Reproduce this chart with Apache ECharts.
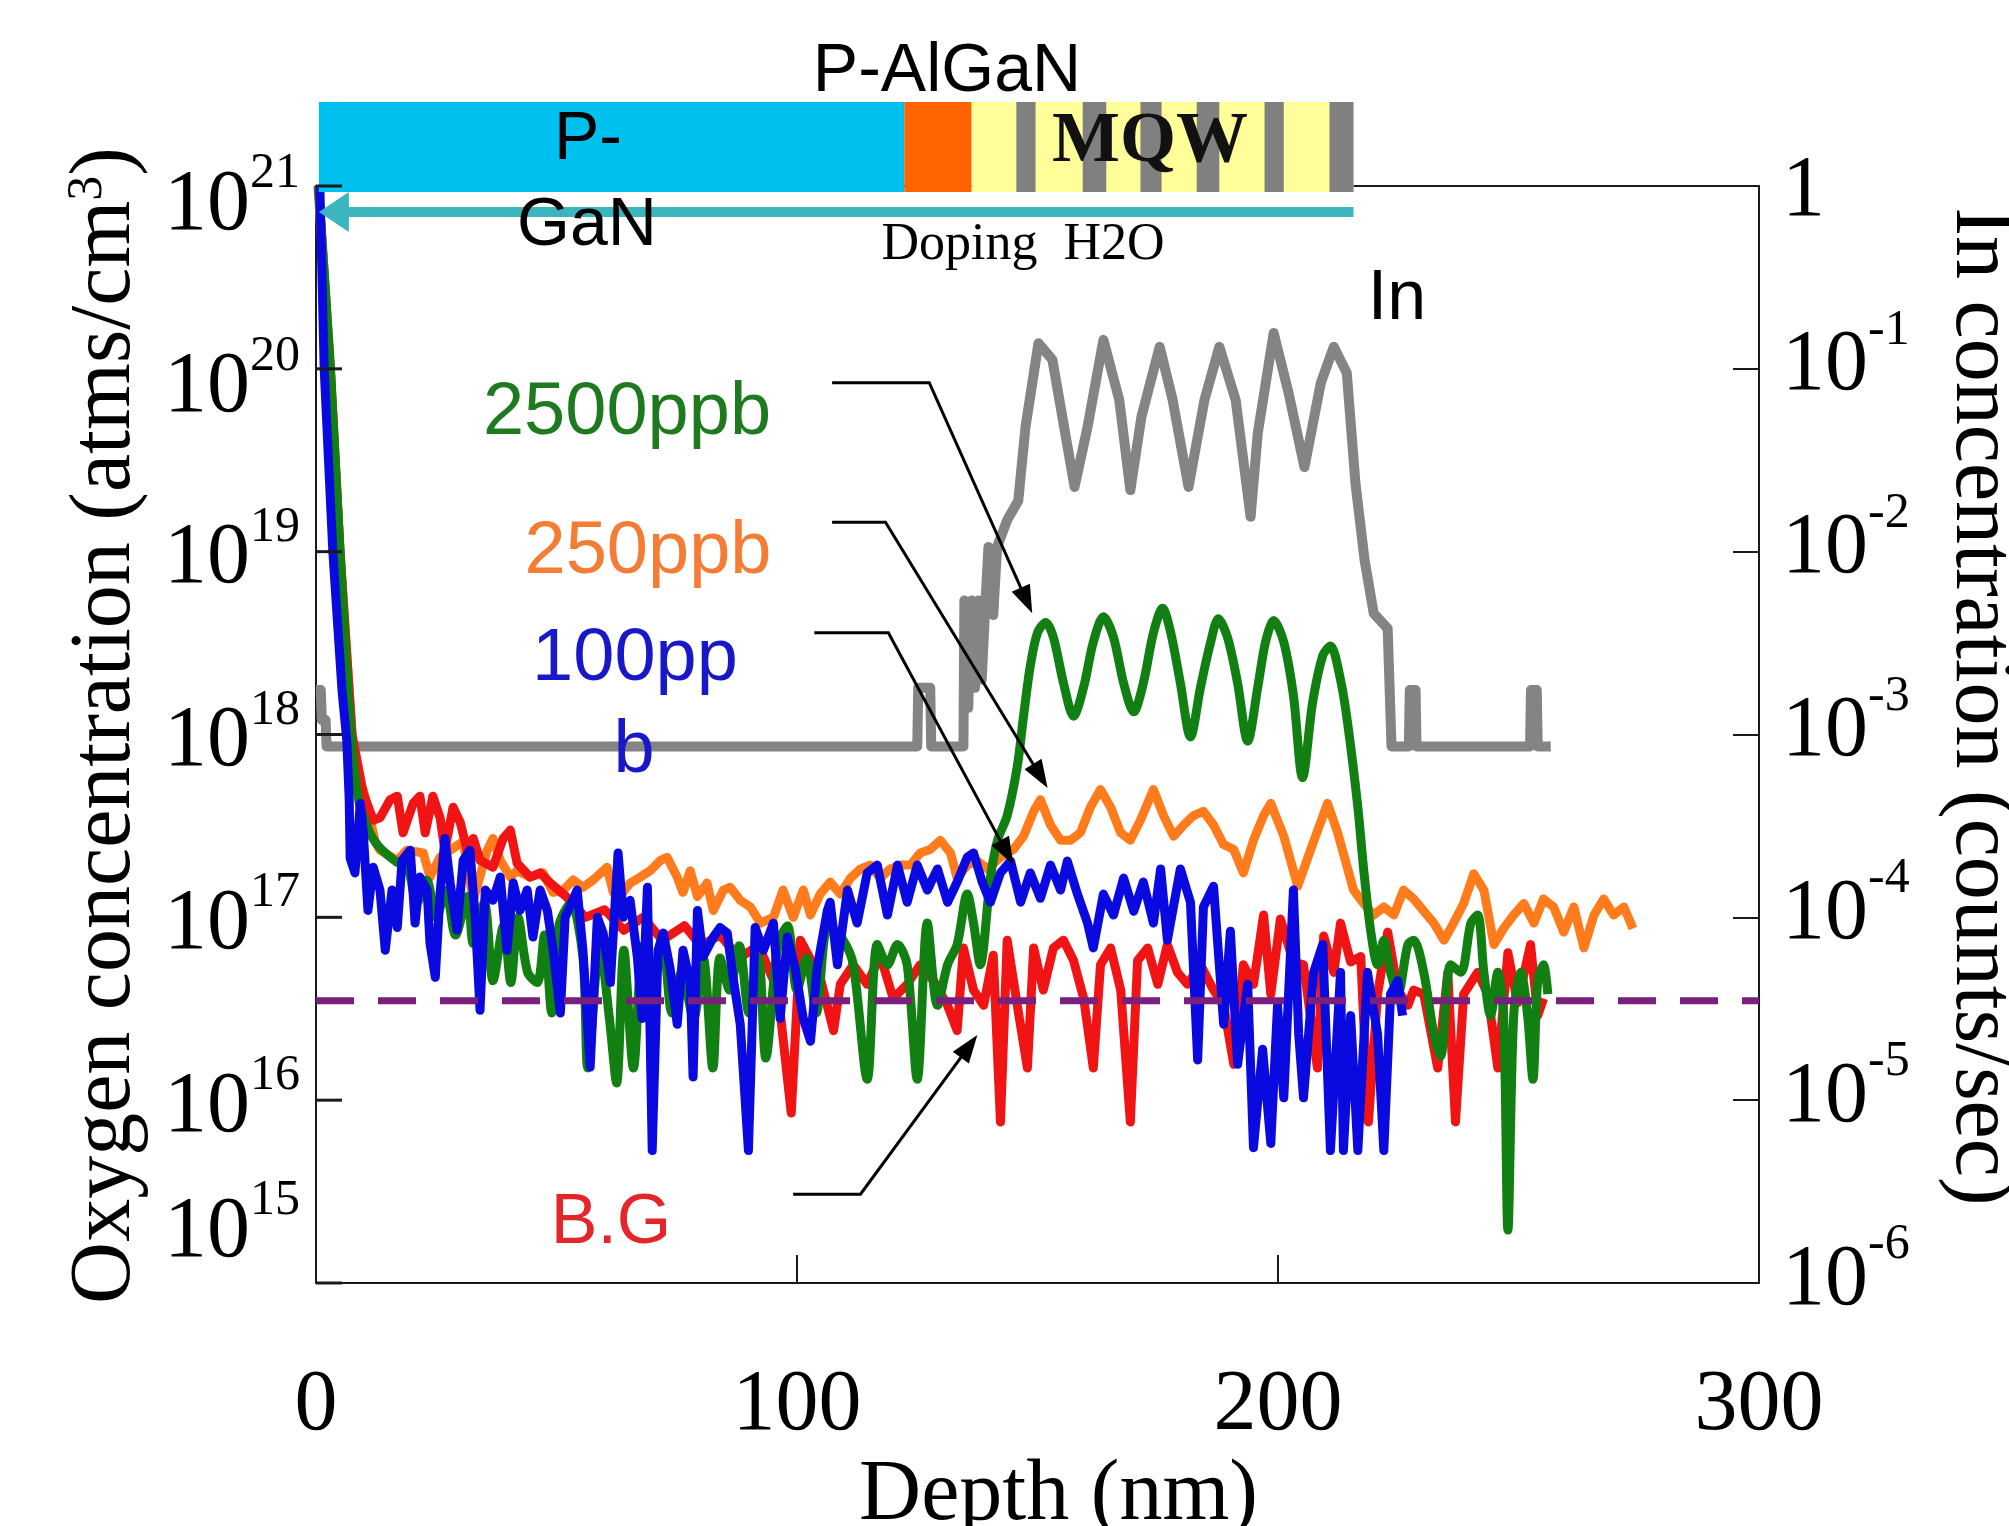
<!DOCTYPE html>
<html>
<head>
<meta charset="utf-8">
<script src="https://cdn.jsdelivr.net/npm/echarts/dist/echarts.min.js"></script>
<style>
  html, body { margin: 0; padding: 0; background: #ffffff; }
  #chart { width: 2009px; height: 1526px; }
</style>
</head>
<body>
<div id="chart"></div>
<script>
// ---- SIMS depth profiles: [depth (nm), concentration] ----
const depthTicks = [0, 100, 200, 300];
// decade ticks of the oxygen axis
const oxygenDecades = [1e15, 1e16, 1e17, 1e18, 1e19, 1e20, 1e21];

// oxygen, 100 ppb H2O doping (atoms/cm3)
const oxygen100 = [[0.8,1.0e21],[1.7,1.0e20],[3.5,1.0e19],[5.4,1.75e18],[6.4,9.3e17],[6.9,4.4e17],[7.1,2.1e17],[8.1,1.75e17],[9.2,4.2e17],[9.8,3.0e17],[10.8,1.09e17],[11.9,1.88e17],[13.3,1.41e17],[14.4,6.6e16],[15.8,1.41e17],[16.9,8.8e16],[17.9,2.05e17],[19.6,2.33e17],[20.6,9.3e16],[21.6,1.66e17],[23.1,1.41e17],[23.7,7.2e16],[24.8,4.7e16],[25.8,1.36e17],[26.8,2.7e17],[27.9,1.54e17],[29.3,8.5e16],[30.6,2.05e17],[32.0,2.33e17],[33.1,1.0e17],[34.1,3.1e16],[35.2,1.41e17],[36.8,1.24e17],[38.3,1.66e17],[39.7,6.6e16],[41.0,1.54e17],[42.4,1.09e17],[43.9,1.41e17],[45.1,7.8e16],[46.6,1.41e17],[48.1,1.09e17],[49.3,6.6e16],[50.8,3.0e16],[51.8,1.0e17],[54.3,1.41e17],[55.5,6.6e16],[57.0,1.52e16],[58.5,1.0e17],[59.7,8.2e16],[61.2,4.4e16],[62.8,2.25e17],[63.9,1.0e17],[65.3,1.24e17],[66.8,6.1e16],[67.8,2.8e16],[68.9,1.46e17],[69.9,5.3e15],[71.1,6.6e16],[72.2,8.2e16],[73.6,5.3e16],[75.1,2.6e16],[76.3,6.6e16],[77.8,4.4e16],[78.4,1.34e16],[79.3,1.09e17],[80.5,6.1e16],[82.6,7.8e16],[84.0,8.8e16],[85.5,8.2e16],[86.7,4.7e16],[88.2,2.6e16],[89.9,5.3e15],[91.3,8.8e16],[93.0,6.6e16],[95.1,9.3e16],[96.5,2.8e16],[98.0,7.8e16],[99.6,5.3e16],[101.3,2.8e16],[102.8,2.1e16],[104.2,5.3e16],[106.3,1.09e17],[106.9,1.21e17],[108.4,5.5e16],[110.5,1.41e17],[112.5,9.3e16],[114.6,1.75e17],[116.7,1.93e17],[118.8,1.03e17],[120.9,1.93e17],[122.9,1.21e17],[125.0,1.93e17],[127.1,1.41e17],[129.2,1.84e17],[131.3,1.21e17],[133.3,1.56e17],[135.4,2.13e17],[136.7,2.25e17],[138.5,1.56e17],[140.2,1.21e17],[142.3,1.75e17],[144.4,2.03e17],[146.5,1.21e17],[148.5,1.75e17],[150.6,1.27e17],[152.7,1.93e17],[154.8,1.41e17],[156.2,2.03e17],[158.3,1.34e17],[160.4,9.3e16],[161.6,6.8e16],[163.7,1.34e17],[165.8,1.03e17],[167.9,1.64e17],[170.0,1.08e17],[172.0,1.56e17],[174.1,9.3e16],[175.6,1.84e17],[177.0,7.5e16],[179.7,1.84e17],[181.8,1.21e17],[183.3,1.66e16],[184.5,1.14e17],[186.6,1.48e17],[188.7,2.6e16],[190.1,8.4e16],[191.6,1.57e16],[193.7,4.3e16],[194.9,5.5e15],[196.8,1.9e16],[198.5,5.8e15],[199.9,3.3e16],[201.2,1.03e16],[203.2,1.41e17],[204.3,2.3e16],[205.3,1.03e16],[207.4,5.0e16],[209.3,7.1e16],[210.9,5.3e15],[213.0,5.0e16],[213.6,5.3e15],[215.1,2.9e16],[216.6,5.3e15],[218.6,5.0e16],[220.7,2.3e16],[222.0,5.3e15],[223.4,3.8e16],[224.9,4.5e16],[225.9,2.9e16]];

// oxygen, 250 ppb
const oxygen250 = [[0.4,1.0e21],[2.9,1.0e20],[5.0,1.0e19],[7.5,1.0e18],[7.7,8.2e17],[8.7,5.4e17],[9.8,5.0e17],[11.2,3.5e17],[12.3,2.6e17],[13.3,2.33e17],[16.9,2.05e17],[18.9,2.33e17],[22.3,2.25e17],[23.7,1.66e17],[25.8,2.13e17],[27.9,2.33e17],[30.6,2.6e17],[32.7,1.24e17],[35.6,2.33e17],[36.8,2.7e17],[38.3,2.05e17],[40.4,1.66e17],[41.8,1.8e17],[44.5,1.66e17],[47.2,1.75e17],[49.3,1.37e17],[51.4,1.41e17],[53.5,1.6e17],[55.5,1.46e17],[57.6,1.6e17],[60.5,1.88e17],[61.8,1.37e17],[63.2,1.3e17],[65.3,1.54e17],[67.4,1.66e17],[69.5,1.8e17],[71.6,2.05e17],[73.0,2.13e17],[75.1,1.66e17],[76.3,1.37e17],[77.8,1.8e17],[79.3,1.3e17],[81.3,1.54e17],[82.6,1.09e17],[84.7,1.41e17],[86.1,1.46e17],[88.2,1.24e17],[90.3,1.14e17],[92.4,9.3e16],[95.1,1.0e17],[97.1,1.41e17],[99.2,1.0e17],[101.3,1.41e17],[102.8,1.03e17],[104.8,1.34e17],[106.9,1.56e17],[109.0,1.34e17],[111.1,1.64e17],[113.2,1.84e17],[115.2,1.93e17],[117.3,1.64e17],[119.4,1.84e17],[121.5,1.93e17],[123.6,1.93e17],[125.6,2.25e17],[127.7,2.35e17],[129.8,2.64e17],[131.9,2.25e17],[133.3,1.64e17],[135.4,1.93e17],[137.5,2.03e17],[139.6,1.84e17],[142.3,2.13e17],[145.0,2.35e17],[147.1,2.78e17],[149.2,3.8e17],[150.6,4.4e17],[152.7,3.2e17],[154.8,2.64e17],[156.9,2.64e17],[158.9,2.9e17],[161.0,4.0e17],[163.1,5.0e17],[165.2,4.0e17],[167.3,2.9e17],[169.3,2.64e17],[171.4,3.4e17],[174.1,5.0e17],[176.2,3.6e17],[178.3,2.78e17],[180.4,3.2e17],[182.4,3.6e17],[184.5,3.8e17],[186.6,3.2e17],[188.7,2.5e17],[190.8,2.35e17],[192.8,1.75e17],[194.9,2.64e17],[197.0,3.6e17],[198.5,4.2e17],[201.2,2.78e17],[204.1,1.48e17],[206.8,2.35e17],[210.3,4.2e17],[212.4,2.9e17],[214.5,1.84e17],[215.7,1.41e17],[217.8,1.19e17],[219.9,1.03e17],[222.0,1.14e17],[224.1,1.03e17],[226.1,1.41e17],[228.2,1.26e17],[230.3,1.08e17],[232.4,9.3e16],[234.5,7.5e16],[236.5,9.3e16],[238.6,1.19e17],[240.7,1.73e17],[242.8,1.41e17],[244.9,7.1e16],[246.9,8.7e16],[249.0,1.03e17],[251.1,1.19e17],[253.2,9.3e16],[255.2,1.26e17],[257.3,1.14e17],[259.4,8.3e16],[261.5,1.14e17],[263.6,6.8e16],[265.7,1.03e17],[267.7,1.26e17],[269.8,1.03e17],[271.9,1.14e17],[273.8,8.7e16]];

// oxygen, 2500 ppb
const oxygen2500 = [[0.5,1.0e21],[3.0,1.0e20],[5.0,1.0e19],[7.3,1.0e18],[9.0,4.2e17],[11.2,2.9e17],[12.7,2.5e17],[14.8,2.2e17],[16.9,2.0e17],[19.0,1.9e17],[21.0,1.2e17],[23.0,1.6e17],[25.0,1.0e17],[27.0,1.4e17],[29.0,8.0e16],[31.5,1.3e17],[32.7,7.2e16],[35.0,1.2e17],[36.8,4.5e16],[39.0,9.0e16],[40.5,4.4e16],[42.0,1.0e17],[44.0,5.0e16],[46.0,4.4e16],[47.5,8.0e16],[49.0,3.0e16],[50.5,9.0e16],[53.0,1.2e17],[55.5,6.0e16],[56.5,1.5e16],[59.0,7.0e16],[61.0,2.8e16],[62.5,1.24e16],[64.0,6.6e16],[66.0,1.5e16],[68.0,7.0e16],[70.0,4.0e16],[72.0,8.0e16],[74.0,3.0e16],[76.0,5.0e16],[78.5,2.8e16],[80.5,6.0e16],[82.5,1.5e16],[84.0,6.0e16],[86.0,4.0e16],[88.0,7.0e16],[90.0,3.0e16],[92.0,6.0e16],[93.5,1.7e16],[96.0,7.0e16],[98.0,9.0e16],[100.0,4.0e16],[102.0,6.0e16],[104.0,3.0e16],[106.5,9.0e16],[109.6,7.5e16],[111.7,5.5e16],[114.6,1.3e16],[116.7,7.1e16],[118.8,5.5e16],[120.9,7.1e16],[122.9,5.5e16],[125.0,1.3e16],[127.1,9.3e16],[129.2,3.3e16],[131.3,5.5e16],[133.3,7.1e16],[135.4,1.34e17],[136.7,9.3e16],[138.1,5.5e16],[140.2,1.64e17],[141.7,2.64e17],[143.7,3.6e17],[145.8,6.7e17],[147.1,1.26e18],[148.5,2.37e18],[150.0,3.6e18],[151.7,4.1e18],[153.3,3.4e18],[155.4,1.91e18],[157.5,1.26e18],[159.6,1.82e18],[161.6,3.2e18],[163.7,4.4e18],[165.8,3.4e18],[167.9,1.91e18],[170.0,1.33e18],[172.0,1.91e18],[174.1,3.6e18],[176.0,4.9e18],[177.7,3.6e18],[179.7,1.91e18],[181.8,9.7e17],[183.9,1.82e18],[186.0,3.2e18],[187.6,4.3e18],[189.5,3.4e18],[191.6,1.91e18],[193.7,9.2e17],[195.8,1.82e18],[197.4,3.2e18],[199.1,4.2e18],[201.2,3.2e18],[203.2,1.64e18],[205.1,5.8e17],[207.2,1.5e18],[209.3,2.7e18],[210.9,3.05e18],[213.0,1.99e18],[214.5,1.14e18],[216.6,4.0e17],[217.8,1.84e17],[219.3,8.3e16],[220.7,5.5e16],[222.0,7.5e16],[223.4,5.0e16],[224.9,3.8e16],[227.0,7.1e16],[228.2,7.5e16],[230.3,5.0e16],[232.4,2.3e16],[233.8,1.74e16],[235.9,5.5e16],[238.0,5.0e16],[240.1,9.3e16],[241.5,1.03e17],[242.8,5.0e16],[244.2,2.9e16],[245.7,5.0e16],[246.9,2.9e16],[247.8,1.95e15],[249.0,2.9e16],[250.5,5.0e16],[251.9,2.9e16],[253.0,1.3e16],[254.0,4.5e16],[255.2,5.5e16],[256.1,3.8e16]];

// oxygen, background (no intentional doping)
const oxygenBG = [[0.5,1.0e21],[3.0,1.0e20],[5.0,1.0e19],[7.5,1.0e18],[9.8,4.8e17],[11.9,3.4e17],[13.3,3.5e17],[15.4,4.4e17],[16.9,4.6e17],[18.1,2.9e17],[20.2,4.2e17],[21.6,4.6e17],[22.7,2.9e17],[24.3,4.6e17],[25.8,3.5e17],[26.8,2.33e17],[28.5,4.0e17],[30.0,3.3e17],[31.4,2.33e17],[32.7,2.7e17],[34.1,2.05e17],[36.8,1.88e17],[38.9,2.7e17],[40.4,3.0e17],[41.8,1.98e17],[44.5,1.66e17],[46.6,1.75e17],[48.7,1.54e17],[52.0,1.3e17],[56.0,1.0e17],[60.0,1.1e17],[64.0,8.5e16],[68.0,1.0e17],[72.0,7.5e16],[76.6,9.0e16],[80.0,7.0e16],[84.0,8.0e16],[88.0,6.0e16],[92.0,7.0e16],[96.0,4.0e16],[98.8,8.5e15],[100.7,7.5e16],[104.8,4.7e16],[107.6,2.4e16],[109.0,4.3e16],[111.7,5.5e16],[114.6,4.3e16],[117.3,6.2e16],[120.0,3.6e16],[122.9,4.3e16],[125.6,5.5e16],[128.4,4.5e16],[131.3,3.3e16],[133.3,2.4e16],[134.6,6.8e16],[136.7,4.0e16],[138.8,3.3e16],[140.8,6.2e16],[142.3,7.6e15],[143.7,7.5e16],[145.8,3.3e16],[147.9,1.5e16],[149.2,6.8e16],[151.2,4.0e16],[153.3,6.8e16],[155.4,7.5e16],[157.5,5.8e16],[159.6,3.6e16],[161.6,1.5e16],[163.1,5.5e16],[165.2,6.8e16],[167.3,4.0e16],[169.3,7.6e15],[170.8,5.8e16],[172.9,6.8e16],[175.0,4.3e16],[177.0,7.1e16],[179.1,5.0e16],[181.2,4.3e16],[183.9,5.5e16],[186.6,4.0e16],[188.7,3.3e16],[190.8,1.57e16],[192.8,5.5e16],[194.9,4.3e16],[197.0,1.03e17],[198.5,3.8e16],[200.5,9.8e16],[203.2,5.7e16],[205.3,5.5e16],[208.2,1.5e16],[209.5,7.9e16],[211.6,5.0e16],[213.0,9.3e16],[215.1,5.7e16],[217.2,6.1e16],[218.8,7.6e15],[220.7,3.8e16],[222.8,8.3e16],[224.9,4.0e16],[227.0,3.3e16],[228.2,4.0e16],[230.3,3.8e16],[233.2,1.5e16],[235.3,5.0e16],[236.9,7.6e15],[238.6,3.8e16],[241.5,5.0e16],[243.6,3.8e16],[245.7,1.5e16],[247.8,6.4e16],[249.8,3.4e16],[252.5,7.1e16],[254.0,2.9e16],[255.2,3.6e16]];

// indium signal (counts/sec, right axis)
const indium = [[0,1.75e-3],[1.0,1.75e-3],[1.2,1.2e-3],[2.0,1.2e-3],[2.2,8.6e-4],[125.0,8.6e-4],[125.2,1.8e-3],[127.7,1.8e-3],[127.9,8.6e-4],[134.6,8.6e-4],[134.8,5.4e-3],[135.6,1.4e-3],[136.3,5.4e-3],[137.0,1.8e-3],[137.7,5.4e-3],[138.4,2.0e-3],[139.2,5.4e-3],[139.8,1.06e-2],[140.8,4.5e-3],[141.6,1.06e-2],[143.7,1.49e-2],[146.0,1.9e-2],[147.5,4.8e-2],[150.2,0.138],[153.1,0.112],[157.7,0.0226],[160.4,0.048],[163.7,0.144],[167.0,0.0675],[169.3,0.0217],[171.6,0.0545],[175.4,0.132],[178.1,0.0675],[181.4,0.0226],[184.7,0.0675],[187.8,0.132],[191.2,0.0675],[194.3,0.0155],[195.8,0.0446],[199.1,0.157],[202.2,0.0738],[205.5,0.029],[208.9,0.0836],[211.6,0.132],[214.3,0.0948],[216.1,0.0237],[218.0,0.009],[219.9,0.0046],[222.8,0.0038],[223.6,8.6e-4],[227.2,8.6e-4],[227.4,1.75e-3],[228.6,1.75e-3],[228.8,8.6e-4],[252.4,8.6e-4],[252.6,1.75e-3],[253.8,1.75e-3],[254.0,8.6e-4],[256.7,8.6e-4]];

// oxygen detection floor (atoms/cm3)
const detectionLimit = 3.5e16;

// layer stack along depth (nm): P-GaN | P-AlGaN | MQW
const layerEdges = [0.6, 122.3, 136.3, 215.7];
// quantum wells inside the MQW (nm)
const wellSpans = [[145.6,149.6],[159.4,164.3],[171.4,175.8],[183.1,187.8],[197.2,201.2],[210.7,215.7]];
// H2O doping range (nm)
const dopingSpan = [0.6, 215.7];

// callout leaders: label corner -> elbow -> arrow tip  [depth, oxygen]
const callout2500 = [[107.3,8.4e19],[127.5,8.4e19],[148.9,4.6e18]];
const callout250  = [[107.3,1.45e19],[118.4,1.45e19],[152.1,5.1e17]];
const callout100  = [[103.6,3.6e18],[119.0,3.6e18],[145.0,1.93e17]];
const calloutBG   = [[99.2,3.06e15],[113.2,3.06e15],[137.5,2.27e16]];

// ---- drawing ----
const SERIF = '"Liberation Serif", "Times New Roman", serif';
const SANS = '"Liberation Sans", Arial, sans-serif';
const INK = '#1a1a1a';
const layerPalette = ['#00c0f0', '#ff6400', '#ffff99', '#808080'];

// power-of-ten labels: base "10" and a raised exponent; the vertical padding
// difference sets each token's offset from the tick
function digits(size, shift) {
  const p = shift >= 0 ? [2 * shift, 0, 0, 0] : [0, 0, -2 * shift, 0];
  return { fontFamily: SERIF, fontSize: size, lineHeight: 86, padding: p, color: '#000' };
}
const leftRich = {
  a: digits(86, 8),   b: digits(50, -24),
  a2: digits(86, -50), b2: digits(50, -82),
  a3: digits(86, 20), b3: digits(50, -12)
};
const rightRich = { a: digits(86, -2), b: digits(50, -38), c: digits(86, 6) };

function leftLabel(v) {
  const e = Math.round(Math.log10(v));
  const k = e <= 15 ? '2' : (e >= 20 ? '3' : '');
  return '{a' + k + '|10}{b' + k + '|' + e + '}';
}
function rightLabel(v) {
  const e = Math.round(Math.log10(v));
  return e === 0 ? '{c|1}' : '{a|10}{b|' + e + '}';
}

const layerData = [];
for (let i = 0; i < layerEdges.length - 1; i++) layerData.push([layerEdges[i], layerEdges[i + 1], i, 1e21]);
wellSpans.forEach(w => layerData.push([w[0], w[1], 3, 1e21]));

function renderLayer(params, api) {
  const x0 = api.coord([api.value(0), api.value(3)])[0];
  const x1 = api.coord([api.value(1), api.value(3)])[0];
  const top = params.coordSys.y - 84;
  return { type: 'rect', shape: { x: x0, y: top, width: x1 - x0, height: 90 },
           style: { fill: layerPalette[api.value(2)] } };
}

function renderDoping(params, api) {
  const xs = api.coord([api.value(0), 1e21])[0];
  const xe = api.coord([api.value(1), 1e21])[0];
  const yc = params.coordSys.y + 26;
  const head = 30;
  return { type: 'group', children: [
    { type: 'rect', shape: { x: xs + head - 2, y: yc - 5, width: xe - xs - head + 2, height: 10 }, style: { fill: '#3cb6be' } },
    { type: 'polygon', shape: { points: [[xs, yc], [xs + head, yc - 20], [xs + head, yc + 20]] }, style: { fill: '#3cb6be' } }
  ]};
}

function renderCallout(params, api) {
  const a = api.coord([api.value(0), api.value(1)]);
  const b = api.coord([api.value(2), api.value(3)]);
  const c = api.coord([api.value(4), api.value(5)]);
  const dx = c[0] - b[0], dy = c[1] - b[1];
  const len = Math.hypot(dx, dy);
  const ux = dx / len, uy = dy / len;
  const hl = 28, hw = 10;
  const base = [c[0] - ux * hl, c[1] - uy * hl];
  return { type: 'group', children: [
    { type: 'polyline', shape: { points: [a, b, [c[0] - ux * 6, c[1] - uy * 6]] }, style: { stroke: '#000', lineWidth: 3, fill: null } },
    { type: 'polygon', shape: { points: [c, [base[0] - uy * hw, base[1] + ux * hw], [base[0] + uy * hw, base[1] - ux * hw]] }, style: { fill: '#000' } }
  ]};
}

// inward tick marks on the oxygen axis
function renderOxygenTick(params, api) {
  const p = api.coord([api.value(0), api.value(1)]);
  return { type: 'rect', shape: { x: p[0], y: p[1] - 1.5, width: 26, height: 3 },
           style: { fill: INK } };
}

function profile(name, data, color, width, extra) {
  return Object.assign({
    name: name, type: 'line', data: data, xAxisIndex: 0, yAxisIndex: 0,
    showSymbol: false, symbol: 'none', sampling: null,
    lineStyle: { color: color, width: width, join: 'round' }, itemStyle: { color: color },
    emphasis: { disabled: true }
  }, extra || {});
}

function note(text, x, y, font, fill) {
  return { type: 'text', x: x, y: y, z: 100,
           style: { text: text, font: font, fill: fill, align: 'center', verticalAlign: 'middle' } };
}

const chart = echarts.init(document.getElementById('chart'));
chart.setOption({
  animation: false,
  backgroundColor: '#ffffff',
  grid: { left: 316, top: 186, width: 1443, height: 1097, containLabel: false, outerBoundsMode: 'none' },
  xAxis: [{
    type: 'value', min: depthTicks[0], max: depthTicks[depthTicks.length - 1], interval: 100, position: 'bottom',
    axisLine: { onZero: false, lineStyle: { color: INK, width: 2 } },
    axisTick: { inside: true, length: 28, lineStyle: { color: INK, width: 2 } },
    axisLabel: { fontFamily: SERIF, fontSize: 86, color: '#000', margin: 80 },
    splitLine: { show: false },
    name: 'Depth (nm)', nameLocation: 'middle', nameGap: 150,
    nameTextStyle: { fontFamily: SERIF, fontSize: 86, color: '#000', padding: [0, 0, 0, 42] }
  }, {
    type: 'value', min: 0, max: 300, position: 'top',
    axisLine: { show: true, onZero: false, lineStyle: { color: INK, width: 2 } },
    axisTick: { show: false }, axisLabel: { show: false }, splitLine: { show: false }
  }],
  yAxis: [{
    type: 'log', logBase: 10, min: oxygenDecades[0], max: oxygenDecades[oxygenDecades.length - 1], splitNumber: 6, position: 'left',
    axisLine: { show: true, onZero: false, lineStyle: { color: INK, width: 2 } },
    axisTick: { show: false },
    axisLabel: { formatter: leftLabel, rich: leftRich, margin: 16 },
    splitLine: { show: false }, minorTick: { show: false },
    name: '{t|Oxygen concentration (atms/cm}{s|3}{t|)}', nameLocation: 'middle', nameRotate: 90, nameGap: 167,
    nameTextStyle: { padding: [0, 0, 0, 18], rich: {
      t: { fontFamily: SERIF, fontSize: 86, lineHeight: 86, color: '#000' },
      s: { fontFamily: SERIF, fontSize: 50, lineHeight: 50, verticalAlign: 'top', color: '#000' }
    } }
  }, {
    type: 'log', logBase: 10, min: 1e-6, max: 1, splitNumber: 6, position: 'right',
    axisLine: { show: true, onZero: false, lineStyle: { color: INK, width: 2 } },
    axisTick: { inside: true, length: 26, lineStyle: { color: INK, width: 2 } },
    axisLabel: { formatter: rightLabel, rich: rightRich, margin: 23 },
    splitLine: { show: false }, minorTick: { show: false },
    name: 'In concentration (counts/sec)', nameLocation: 'middle', nameRotate: -90, nameGap: 178,
    nameTextStyle: { fontFamily: SERIF, fontSize: 86, color: '#000', padding: [0, 56, 0, 0] }
  }],
  series: [
    profile('In', indium, '#848484', 10, { yAxisIndex: 1 }),
    profile('250ppb', oxygen250, '#ff7b1c', 9),
    profile('B.G', oxygenBG, '#f01414', 9),
    profile('2500ppb', oxygen2500, '#127f12', 9, { smooth: 0.3 }),
    profile('100ppb', oxygen100, '#0a0ae0', 9),
    {
      name: 'detection limit', type: 'line', xAxisIndex: 0, yAxisIndex: 0, showSymbol: false, symbol: 'none',
      data: [[depthTicks[0], detectionLimit], [depthTicks[depthTicks.length - 1], detectionLimit]],
      lineStyle: { color: '#7a1f7e', width: 7, type: [38, 24] }, z: 3
    },
    {
      type: 'custom', name: 'oxygen ticks', xAxisIndex: 0, yAxisIndex: 0, clip: false, z: 13,
      renderItem: renderOxygenTick, encode: { x: 0, y: 1 },
      data: oxygenDecades.map(v => [depthTicks[0], v]), silent: true
    },
    {
      type: 'custom', name: 'layers', xAxisIndex: 0, yAxisIndex: 0, clip: false, z: 10,
      renderItem: renderLayer, encode: { x: [0, 1], y: 3 }, data: layerData, silent: true
    },
    {
      type: 'custom', name: 'doping', xAxisIndex: 0, yAxisIndex: 0, clip: false, z: 11,
      renderItem: renderDoping, encode: { x: [0, 1], y: 2 }, data: [[dopingSpan[0], dopingSpan[1], 1e21]], silent: true
    },
    {
      type: 'custom', name: 'callouts', xAxisIndex: 0, yAxisIndex: 0, clip: false, z: 12,
      renderItem: renderCallout, encode: { x: [0, 2, 4], y: [1, 3, 5] }, silent: true,
      data: [callout2500, callout250, callout100, calloutBG].map(c => [].concat(c[0], c[1], c[2]))
    }
  ],
  graphic: [
    note('P-AlGaN', 947, 72, '68px ' + SANS, '#000'),
    note('P-', 588, 140, '68px ' + SANS, '#000'),
    note('GaN', 587, 226, '68px ' + SANS, '#000'),
    note('MQW', 1150, 142, 'bold 72px ' + SERIF, '#111'),
    note('Doping  H2O', 1023, 245, '52px ' + SERIF, '#000'),
    note('In', 1397, 300, '70px ' + SANS, '#000'),
    note('2500ppb', 627, 414, '74px ' + SANS, '#1f7a1f'),
    note('250ppb', 648, 553, '74px ' + SANS, '#f47c34'),
    note('100pp', 635, 660, '74px ' + SANS, '#1818c8'),
    note('b', 634, 752, '74px ' + SANS, '#1818c8'),
    note('B.G', 611, 1224, '70px ' + SANS, '#e3262a')
  ]
});
</script>
</body>
</html>
